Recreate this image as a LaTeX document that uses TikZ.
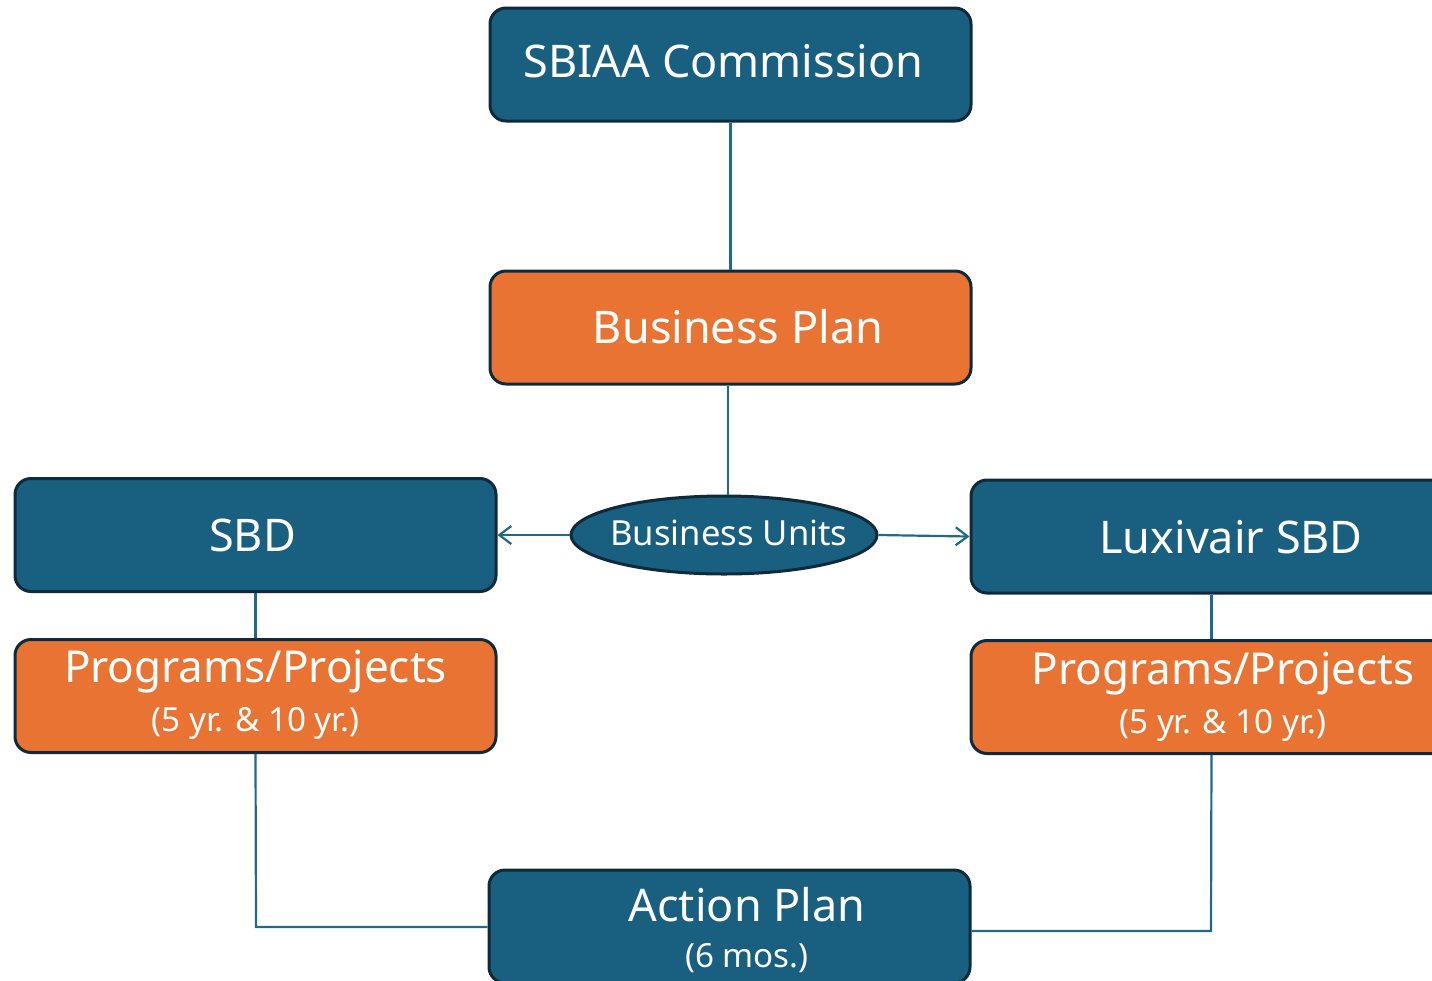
\documentclass[tikz,border=0pt]{standalone}
\usepackage{fontspec}
\setmainfont{Noto Sans}
\usetikzlibrary{shapes.geometric,arrows.meta}
\definecolor{boxblue}{HTML}{185F80}
\definecolor{boxorange}{HTML}{E97333}
\definecolor{edgedark}{HTML}{0E2A3B}
\definecolor{linkblue}{HTML}{1F6A8C}
\tikzset{
  box/.style={draw=edgedark, line width=1.5pt, rounded corners=8pt, minimum width=240.5pt, minimum height=56.5pt, inner sep=0pt},
  bluebox/.style={box, fill=boxblue},
  orangebox/.style={box, fill=boxorange},
  label/.style={text=white, inner sep=0pt, anchor=center},
  big/.style={label, font=\fontsize{22.5}{26}\selectfont},
  mid/.style={label, font=\fontsize{22}{26}\selectfont},
  small/.style={label, font=\fontsize{16.6}{19}\selectfont},
  link/.style={draw=linkblue, line width=1.1pt},
  arr/.style={link, -{Straight Barb[length=6pt,width=9pt,line width=1.1pt]}},
}
\begin{document}
\begin{tikzpicture}[x=0.5pt,y=-0.5pt]
\useasboundingbox (0,0) rectangle (1432,981);
\clip (0,0) rectangle (1432,981);
\node[bluebox] (comm) at (730.5,64.5) {};
\node[big] (commt) at (723.5,61) {SBIAA Commission};
\node[orangebox] (bp) at (730.5,327.5) {};
\node[big] (bpt) at (738,327) {Business Plan};
\node[ellipse, draw=edgedark, line width=1.5pt, fill=boxblue, minimum width=153pt, minimum height=39pt, inner sep=0pt] (bu) at (724,535) {};
\node[label, font=\fontsize{17.3}{20}\selectfont] (but) at (729,533) {Business Units};
\node[bluebox] (sbd) at (255.5,535) {};
\node[big] (sbdt) at (252.5,535) {SBD};
\node[bluebox] (lux) at (1211.5,536.5) {};
\node[big] (luxt) at (1231,537) {Luxivair SBD};
\node[orangebox] (ppl) at (255.5,696) {};
\node[mid] (pplt) at (255.5,672) {Programs/Projects};
\node[small] (ppls) at (255.5,723) {(5 yr. \& 10 yr.)};
\node[orangebox] (ppr) at (1211.5,697) {};
\node[mid] (pprt) at (1223,674) {Programs/Projects};
\node[small] (pprs) at (1223,725) {(5 yr. \& 10 yr.)};
\node[bluebox] (ap) at (729.5,926.5) {};
\node[big] (apt) at (747,905) {Action Plan};
\node[small] (aps) at (747,958) {(6 mos.)};
\coordinate (bux) at (728,0);
\draw[link] (comm.south) -- (bp.north);
\draw[link] (bp.south -| bux) -- (bu.north -| bux);
\draw[arr] (bu.west) -- (sbd.east);
\draw[arr] (bu.east) -- (lux.west);
\draw[link] (sbd.south) -- (ppl.north);
\draw[link] (lux.south) -- (ppr.north);
\coordinate (cl) at (256,927);
\coordinate (cr) at (1211,931);
\draw[link] (ppl.south) -- (cl) -- (cl -| ap.west);
\draw[link] (cr -| ap.east) -- (cr) -- (ppr.south);
\end{tikzpicture}
\end{document}
